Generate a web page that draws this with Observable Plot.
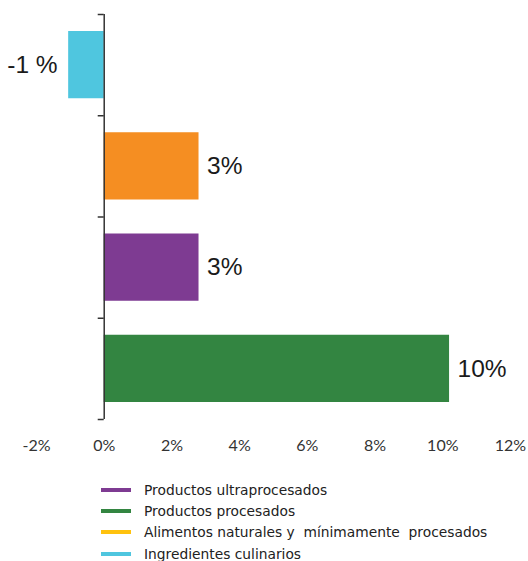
<!DOCTYPE html>
<html>
<head>
<meta charset="utf-8">
<script src="https://cdn.jsdelivr.net/npm/d3@7"></script>
<script src="https://cdn.jsdelivr.net/npm/@observablehq/plot@0.6"></script>
<style>
  body { margin: 0; background: #fff; font-family: Lato, "Noto Sans", sans-serif; }
  #chart { width: 528px; }
  .legend { margin: 15px 0 0 101px; font-family: "DejaVu Sans", sans-serif; }
  .legend .item { display: flex; align-items: center; height: 21.3px; font-size: 13.8px; color: #222; }
  .legend .sw { width: 30px; height: 4px; margin-right: 13px; }
</style>
</head>
<body>
<div id="chart"></div>
<script>
// Data
const categories = ["Ingredientes culinarios", "Alimentos naturales y mínimamente procesados", "Productos ultraprocesados", "Productos procesados"];
const values = [-1.05, 2.8, 2.8, 10.2];
const valueLabels = ["-1 %", "3%", "3%", "10%"];
const barColors = ["#4FC6DF", "#F58E22", "#7E3B92", "#338541"];
const xTicks = [-2, 0, 2, 4, 6, 8, 10, 12];
const legendNames = ["Productos ultraprocesados", "Productos procesados", "Alimentos naturales y  mínimamente  procesados", "Ingredientes culinarios"];
const legendColors = ["#7E3B92", "#338541", "#FFC20E", "#4FC6DF"];

const data = categories.map((c, i) => ({cat: c, i, value: values[i], label: valueLabels[i], color: barColors[i]}));

const W = 528, ML = 36, MR = 18;
const xDomain = [-2, 12];
const zeroOffset = (0 - xDomain[0]) / (xDomain[1] - xDomain[0]) * (W - ML - MR);

const chart = Plot.plot({
  width: W,
  height: 464,
  marginTop: 14,
  marginBottom: 45,
  marginLeft: ML,
  marginRight: MR,
  style: {fontFamily: "Lato, 'Noto Sans', sans-serif", color: "#333", background: "#fff"},
  x: {domain: xDomain, ticks: xTicks, tickFormat: d => d + "%"},
  y: {domain: [0, categories.length], reverse: true, axis: null},
  marks: [
    Plot.rectX(data, {x1: 0, x2: "value", y1: "i", y2: d => d.i + 1, fill: "color", insetTop: 17, insetBottom: 17}),
    Plot.axisX({ticks: xTicks, tickSize: 0, tickPadding: 20, tickFormat: d => d + "%", fontSize: 16, fill: "#333", label: null}),
    Plot.axisY({ticks: d3.range(categories.length + 1), tickFormat: () => "", tickSize: 6, stroke: "#333", strokeWidth: 1.5, label: null, dx: zeroOffset}),
    Plot.ruleX([0], {stroke: "#333", strokeWidth: 1.5}),
    Plot.text(data.filter(d => d.value >= 0), {x: "value", y: d => d.i + 0.5, text: "label", textAnchor: "start", dx: 8, fontSize: 24.5, fill: "#1a1a1a", fontFamily: "'Liberation Sans', Arial, sans-serif"}),
    Plot.text(data.filter(d => d.value < 0), {x: "value", y: d => d.i + 0.5, text: "label", textAnchor: "end", dx: -11, fontSize: 24.5, fill: "#1a1a1a", fontFamily: "'Liberation Sans', Arial, sans-serif"})
  ]
});
document.getElementById("chart").appendChild(chart);

const legend = document.createElement("div");
legend.className = "legend";
legendNames.forEach((n, i) => {
  const item = document.createElement("div");
  item.className = "item";
  const sw = document.createElement("span");
  sw.className = "sw";
  sw.style.background = legendColors[i];
  const t = document.createElement("span");
  t.textContent = n;
  t.style.whiteSpace = "pre";
  item.appendChild(sw); item.appendChild(t);
  legend.appendChild(item);
});
document.getElementById("chart").appendChild(legend);
</script>
</body>
</html>
